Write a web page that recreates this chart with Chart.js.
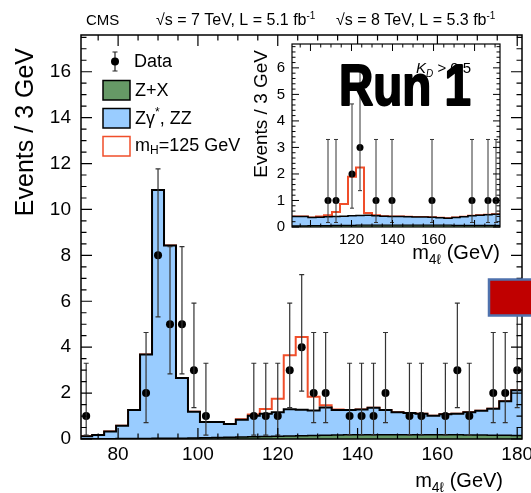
<!DOCTYPE html>
<html>
<head>
  <meta charset="utf-8">
  <title>m4l distribution</title>
  <script src="https://cdn.jsdelivr.net/npm/chart.js"></script>
  <style>
    html, body { margin: 0; padding: 0; background: #fff; }
    #wrap { position: relative; width: 531px; height: 493px; }
    #wrap canvas { position: absolute; left: 0; top: 0; }
  </style>
</head>
<body>
<div id="wrap">
  <canvas id="mainChart" width="531" height="493"></canvas>
  <canvas id="insetChart" width="531" height="493"></canvas>
</div>
<script>
  // ---- main plot: 3 GeV bins ----
  const binEdges = [70.5, 73.5, 76.5, 79.5, 82.5, 85.5, 88.5, 91.5, 94.5, 97.5, 100.5, 103.5, 106.5, 109.5,
    112.5, 115.5, 118.5, 121.5, 124.5, 127.5, 130.5, 133.5, 136.5, 139.5, 142.5, 145.5, 148.5, 151.5,
    154.5, 157.5, 160.5, 163.5, 166.5, 169.5, 172.5, 175.5, 178.5, 181.5];
  const zxYield = [0.01, 0.01, 0.01, 0.02, 0.02, 0.02, 0.03, 0.03, 0.03, 0.04, 0.05, 0.06, 0.08, 0.09, 0.10,
    0.11, 0.12, 0.13, 0.14, 0.15, 0.16, 0.17, 0.18, 0.18, 0.19, 0.19, 0.19, 0.19, 0.19, 0.18, 0.18, 0.18,
    0.17, 0.17, 0.16, 0.16, 0.15];
  const zzYield = [0.11, 0.16, 0.32, 0.56, 1.24, 3.66, 10.82, 8.40, 2.63, 1.15, 0.69, 0.68, 0.57, 0.75, 0.91,
    0.99, 1.05, 1.17, 1.13, 1.09, 1.21, 1.09, 1.08, 1.11, 1.17, 1.07, 0.97, 0.94, 0.91, 0.83, 0.90, 0.92,
    1.00, 1.06, 1.16, 1.48, 1.97];
  const higgsYield = [0, 0, 0, 0, 0, 0, 0, 0, 0, 0, 0, 0, 0, 0.02, 0.06, 0.21, 0.58, 2.35, 3.17, 0.60, 0.10,
    0.03, 0, 0, 0, 0, 0, 0, 0, 0, 0, 0, 0, 0, 0, 0, 0];

  const dataMass = [72, 87, 90, 93, 96, 99, 102, 114, 117, 120, 123, 126, 129, 132, 138, 141, 144, 147,
    153, 156, 162, 165, 168, 174, 177, 180];
  const dataEvents = [1, 2, 8, 5, 5, 3, 1, 1, 1, 1, 3, 4, 2, 2, 1, 1, 1, 2, 1, 1, 1, 3, 1, 2, 2, 3];
  const dataLow = [0.17, 0.71, 5.32, 2.84, 2.84, 1.37, 0.17, 0.17, 0.17, 0.17, 1.37, 2.09, 0.71, 0.71,
    0.17, 0.17, 0.17, 0.71, 0.17, 0.17, 0.17, 1.37, 0.17, 0.71, 0.71, 1.37];
  const dataHigh = [3.30, 4.64, 11.77, 8.38, 8.38, 5.92, 3.30, 3.30, 3.30, 3.30, 5.92, 7.16, 4.64, 4.64,
    3.30, 3.30, 3.30, 4.64, 3.30, 3.30, 3.30, 5.92, 3.30, 4.64, 4.64, 5.92];

  const mainXLabels = [80, 100, 120, 140, 160, 180];
  const mainYLabels = [0, 2, 4, 6, 8, 10, 12, 14, 16];

  // ---- inset (KD > 0.5) ----
  const insetEdges = [91, 94.9, 98.8, 102.7, 106.6, 110.5, 114.4, 118.3, 122.2, 126.1, 130, 133.9, 137.8,
    141.7, 145.6, 149.5, 153.4, 157.3, 161.2, 165.1, 169, 172.9, 176.8, 180.7, 184.6, 188.5, 192.4];
  const insetZx = [0.04, 0.04, 0.05, 0.05, 0.05, 0.06, 0.06, 0.06, 0.07, 0.07, 0.07, 0.07, 0.07, 0.07,
    0.07, 0.07, 0.07, 0.07, 0.07, 0.07, 0.06, 0.06, 0.06, 0.06, 0.06, 0.06];
  const insetZz = [0.36, 0.36, 0.31, 0.32, 0.34, 0.34, 0.35, 0.36, 0.36, 0.37, 0.35, 0.34, 0.33, 0.33,
    0.32, 0.31, 0.31, 0.30, 0.28, 0.26, 0.30, 0.33, 0.36, 0.38, 0.40, 0.42];
  const insetHiggs = [0, 0, 0, 0.03, 0.05, 0.17, 0.46, 1.47, 1.81, 0.09, 0.02, 0, 0, 0, 0, 0, 0, 0, 0, 0,
    0, 0, 0, 0, 0, 0];
  const insetMass = [108.55, 112.45, 120.25, 124.15, 131.95, 139.75, 159.25, 178.75, 186.55, 190.45];
  const insetEvents = [1, 1, 2, 3, 1, 1, 1, 1, 1, 1];
  const insetLow = [0.17, 0.17, 0.71, 1.37, 0.17, 0.17, 0.17, 0.17, 0.17, 0.17];
  const insetHigh = [3.30, 3.30, 4.64, 5.92, 3.30, 3.30, 3.30, 3.30, 3.30, 3.30];
  const insetXLabels = [120, 140, 160];
  const insetYLabels = [0, 1, 2, 3, 4, 5, 6];

  const FONT = "'Liberation Sans', Arial, Helvetica, sans-serif";
  const GREEN = '#669966';
  const BLUE = '#99ccff';
  const RED = '#f04e2a';

  function range(a, b, s) {
    const out = [];
    for (let v = a; v <= b + 1e-9; v += s) out.push(Math.round(v * 1000) / 1000);
    return out;
  }
  function addUp(a, b) { return a.map((v, i) => v + b[i]); }
  // step histogram: one point per left edge, plus the closing right edge
  function histPoints(edges, vals) {
    const pts = vals.map((v, i) => ({ x: edges[i], y: v }));
    pts.push({ x: edges[edges.length - 1], y: vals[vals.length - 1] });
    return pts;
  }
  function fontStr(p) {
    return (p.italic ? 'italic ' : '') + (p.bold ? 'bold ' : '') + p.size + 'px ' + FONT;
  }
  function drawParts(ctx, parts, x, y, align) {
    let w = 0;
    parts.forEach(p => { ctx.font = fontStr(p); w += ctx.measureText(p.t).width; });
    let cx = align === 'right' ? x - w : x;
    parts.forEach(p => {
      ctx.font = fontStr(p);
      ctx.fillText(p.t, cx, y + (p.dy || 0));
      cx += ctx.measureText(p.t).width;
    });
  }

  function frameTicks(cfg) {
    return {
      id: 'frameTicks',
      afterDraw(chart) {
        const { ctx, chartArea: a, scales: { x, y } } = chart;
        ctx.save();
        ctx.strokeStyle = '#000';
        ctx.lineWidth = cfg.lw;
        ctx.beginPath();
        cfg.xTicks.forEach(v => {
          const len = cfg.xMajor.includes(v) ? cfg.major : cfg.minor;
          const px = x.getPixelForValue(v);
          ctx.moveTo(px, a.bottom); ctx.lineTo(px, a.bottom - len);
          ctx.moveTo(px, a.top); ctx.lineTo(px, a.top + len);
        });
        cfg.yTicks.forEach(v => {
          const len = cfg.yMajor.includes(v) ? cfg.major : cfg.minor;
          const py = y.getPixelForValue(v);
          ctx.moveTo(a.left, py); ctx.lineTo(a.left + len, py);
          ctx.moveTo(a.right, py); ctx.lineTo(a.right - len, py);
        });
        ctx.stroke();
        ctx.lineWidth = cfg.frame;
        ctx.strokeRect(a.left, a.top, a.width, a.height);
        ctx.restore();
      }
    };
  }

  function errorBars(xs, lo, hi, cap, lw) {
    return {
      id: 'errorBars',
      afterDatasetsDraw(chart) {
        const { ctx, chartArea: a, scales: { x, y } } = chart;
        ctx.save();
        ctx.beginPath();
        ctx.rect(a.left, a.top, a.width, a.height);
        ctx.clip();
        ctx.strokeStyle = '#333';
        ctx.lineWidth = lw;
        ctx.beginPath();
        xs.forEach((m, i) => {
          const px = x.getPixelForValue(m);
          const y1 = y.getPixelForValue(lo[i]);
          const y2 = y.getPixelForValue(hi[i]);
          ctx.moveTo(px, y1); ctx.lineTo(px, y2);
          ctx.moveTo(px - cap, y1); ctx.lineTo(px + cap, y1);
          ctx.moveTo(px - cap, y2); ctx.lineTo(px + cap, y2);
        });
        ctx.stroke();
        ctx.restore();
      }
    };
  }

  const mainDecor = {
    id: 'mainDecor',
    afterDraw(chart) {
      const ctx = chart.ctx;
      ctx.save();
      ctx.fillStyle = '#000';
      ctx.textBaseline = 'alphabetic';

      // header
      drawParts(ctx, [{ t: 'CMS', size: 15 }], 86, 25);
      drawParts(ctx, [{ t: '\u221As = 7 TeV, L = 5.1 fb', size: 16 }, { t: '-1', size: 10, dy: -6 }], 156, 25);
      drawParts(ctx, [{ t: '\u221As = 8 TeV, L = 5.3 fb', size: 16 }, { t: '-1', size: 10, dy: -6 }], 336, 25);

      // axis titles
      drawParts(ctx, [{ t: 'm', size: 20 }, { t: '4\u2113', size: 14, dy: 5 }, { t: ' (GeV)', size: 20 }], 503, 487, 'right');
      ctx.save();
      ctx.translate(33, 48);
      ctx.rotate(-Math.PI / 2);
      drawParts(ctx, [{ t: 'Events / 3 GeV', size: 25 }], 0, 0, 'right');
      ctx.restore();

      // legend
      ctx.strokeStyle = '#222';
      ctx.lineWidth = 1.2;
      ctx.beginPath();
      ctx.moveTo(115, 52); ctx.lineTo(115, 71);
      ctx.moveTo(112.5, 52); ctx.lineTo(117.5, 52);
      ctx.moveTo(112.5, 71); ctx.lineTo(117.5, 71);
      ctx.stroke();
      ctx.beginPath();
      ctx.arc(115, 61.5, 4, 0, Math.PI * 2);
      ctx.fill();
      ctx.lineWidth = 1.5;
      ctx.fillStyle = GREEN;
      ctx.fillRect(103, 80.5, 27, 19.5);
      ctx.strokeStyle = '#000';
      ctx.strokeRect(103, 80.5, 27, 19.5);
      ctx.fillStyle = BLUE;
      ctx.fillRect(103, 108.5, 27, 19.5);
      ctx.strokeRect(103, 108.5, 27, 19.5);
      ctx.strokeStyle = RED;
      ctx.strokeRect(103, 136.5, 27, 19.5);
      ctx.fillStyle = '#000';
      ctx.textBaseline = 'middle';
      drawParts(ctx, [{ t: 'Data', size: 18 }], 134, 62);
      drawParts(ctx, [{ t: 'Z+X', size: 18 }], 135, 91);
      drawParts(ctx, [{ t: 'Z\u03B3', size: 18 }, { t: '*', size: 12, dy: -6 }, { t: ', ZZ', size: 18 }], 135, 119);
      drawParts(ctx, [{ t: 'm', size: 18 }, { t: 'H', size: 12, dy: 5 }, { t: '=125 GeV', size: 18 }], 135, 146);

      // red box overlay on the right
      ctx.fillStyle = '#c00000';
      ctx.fillRect(489, 279.5, 50, 36);
      ctx.strokeStyle = '#4f72ad';
      ctx.lineWidth = 2.5;
      ctx.strokeRect(489, 279.5, 50, 36);
      ctx.restore();
    }
  };

  const insetDecor = {
    id: 'insetDecor',
    beforeDraw(chart) {
      const { ctx, chartArea: a } = chart;
      ctx.save();
      ctx.fillStyle = '#fff';
      ctx.fillRect(a.left, a.top, a.width, a.height);
      ctx.restore();
    },
    afterDraw(chart) {
      const ctx = chart.ctx;
      ctx.save();
      ctx.fillStyle = '#000';
      ctx.textBaseline = 'alphabetic';
      drawParts(ctx, [{ t: 'm', size: 20 }, { t: '4\u2113', size: 14, dy: 5 }, { t: ' (GeV)', size: 20 }], 500, 259, 'right');
      ctx.save();
      ctx.translate(267, 50);
      ctx.rotate(-Math.PI / 2);
      drawParts(ctx, [{ t: 'Events / 3 GeV', size: 19 }], 0, 0, 'right');
      ctx.restore();

      drawParts(ctx, [{ t: 'K', size: 15, italic: true }, { t: 'D', size: 10, dy: 4, italic: true }, { t: ' > 0.5', size: 15 }], 416, 73);

      // big overlay label, squeezed to its width in the picture
      ctx.font = 'bold 58px ' + FONT;
      const w = ctx.measureText('Run 1').width;
      ctx.translate(339, 105);
      ctx.scale(132 / w, 1);
      ctx.strokeStyle = '#000';
      ctx.lineWidth = 2;
      ctx.lineJoin = 'round';
      ctx.strokeText('Run 1', 0, 0);
      ctx.fillText('Run 1', 0, 0);
      ctx.restore();
    }
  };

  const mainChart = new Chart(document.getElementById('mainChart'), {
    type: 'line',
    data: {
      datasets: [
        {
          label: 'Data',
          data: dataMass.map((m, i) => ({ x: m, y: dataEvents[i] })),
          showLine: false,
          pointRadius: 4,
          pointBackgroundColor: '#000',
          pointBorderColor: '#000',
          pointBorderWidth: 0
        },
        {
          label: 'Z+X',
          data: histPoints(binEdges, zxYield),
          stepped: 'before',
          borderColor: '#000',
          borderWidth: 1.5,
          backgroundColor: GREEN,
          fill: 'origin',
          pointRadius: 0
        },
        {
          label: 'Zgamma*, ZZ',
          data: histPoints(binEdges, addUp(zxYield, zzYield)),
          stepped: 'before',
          borderColor: '#000',
          borderWidth: 2,
          backgroundColor: BLUE,
          fill: '-1',
          pointRadius: 0
        },
        {
          label: 'mH=125 GeV',
          data: histPoints(binEdges, addUp(addUp(zxYield, zzYield), higgsYield)),
          stepped: 'before',
          borderColor: RED,
          borderWidth: 2,
          fill: false,
          pointRadius: 0
        }
      ]
    },
    options: {
      responsive: false,
      animation: false,
      devicePixelRatio: 1,
      layout: { autoPadding: false, padding: { left: 0, top: 35, right: 9, bottom: 0 } },
      plugins: { legend: { display: false }, tooltip: { enabled: false } },
      scales: {
        x: {
          type: 'linear', min: 70.7, max: 181.2,
          grid: { display: false, drawTicks: false },
          border: { display: false },
          ticks: { color: '#000', font: { family: FONT, size: 19 }, padding: 4, maxRotation: 0, autoSkip: false },
          afterBuildTicks: s => { s.ticks = mainXLabels.map(v => ({ value: v })); },
          afterFit: s => { s.height = 54; s.paddingLeft = 0; s.paddingRight = 0; }
        },
        y: {
          type: 'linear', min: 0, max: 17.6,
          grid: { display: false, drawTicks: false },
          border: { display: false },
          ticks: { color: '#000', font: { family: FONT, size: 19 }, padding: 10, autoSkip: false },
          afterBuildTicks: s => { s.ticks = mainYLabels.map(v => ({ value: v })); },
          afterFit: s => { s.width = 81; s.paddingTop = 0; s.paddingBottom = 0; }
        }
      }
    },
    plugins: [
      errorBars(dataMass, dataLow, dataHigh, 2.5, 1.2),
      frameTicks({ xTicks: range(75, 180, 5), xMajor: mainXLabels, yTicks: range(0, 17.5, 0.5), yMajor: mainYLabels,
        major: 11, minor: 5.5, lw: 1.2, frame: 1.5 }),
      mainDecor
    ]
  });

  const insetChart = new Chart(document.getElementById('insetChart'), {
    type: 'line',
    data: {
      datasets: [
        {
          label: 'Data',
          data: insetMass.map((m, i) => ({ x: m, y: insetEvents[i] })),
          showLine: false,
          pointRadius: 3.5,
          pointBackgroundColor: '#000',
          pointBorderColor: '#000',
          pointBorderWidth: 0
        },
        {
          label: 'Z+X',
          data: histPoints(insetEdges, insetZx),
          stepped: 'before',
          borderColor: '#000',
          borderWidth: 1.2,
          backgroundColor: GREEN,
          fill: 'origin',
          pointRadius: 0
        },
        {
          label: 'Zgamma*, ZZ',
          data: histPoints(insetEdges, addUp(insetZx, insetZz)),
          stepped: 'before',
          borderColor: '#000',
          borderWidth: 1.5,
          backgroundColor: BLUE,
          fill: '-1',
          pointRadius: 0
        },
        {
          label: 'mH=125 GeV',
          data: histPoints(insetEdges, addUp(addUp(insetZx, insetZz), insetHiggs)),
          stepped: 'before',
          borderColor: RED,
          borderWidth: 2,
          fill: false,
          pointRadius: 0
        }
      ]
    },
    options: {
      responsive: false,
      animation: false,
      devicePixelRatio: 1,
      layout: { autoPadding: false, padding: { left: 0, top: 44, right: 31, bottom: 0 } },
      plugins: { legend: { display: false }, tooltip: { enabled: false } },
      scales: {
        x: {
          type: 'linear', min: 91, max: 192.4,
          grid: { display: false, drawTicks: false },
          border: { display: false },
          ticks: { color: '#000', font: { family: FONT, size: 15 }, padding: 4, maxRotation: 0, autoSkip: false },
          afterBuildTicks: s => { s.ticks = insetXLabels.map(v => ({ value: v })); },
          afterFit: s => { s.height = 266; s.paddingLeft = 0; s.paddingRight = 0; }
        },
        y: {
          type: 'linear', min: 0, max: 6.9,
          grid: { display: false, drawTicks: false },
          border: { display: false },
          ticks: { color: '#000', font: { family: FONT, size: 15 }, padding: 7, autoSkip: false },
          afterBuildTicks: s => { s.ticks = insetYLabels.map(v => ({ value: v })); },
          afterFit: s => { s.width = 292; s.paddingTop = 0; s.paddingBottom = 0; }
        }
      }
    },
    plugins: [
      insetDecor,
      errorBars(insetMass, insetLow, insetHigh, 2, 1),
      frameTicks({ xTicks: range(95, 190, 5), xMajor: [100, 120, 140, 160, 180], yTicks: range(0, 6.8, 0.2),
        yMajor: insetYLabels, major: 7, minor: 3.5, lw: 1, frame: 1.2 })
    ]
  });
</script>
</body>
</html>
